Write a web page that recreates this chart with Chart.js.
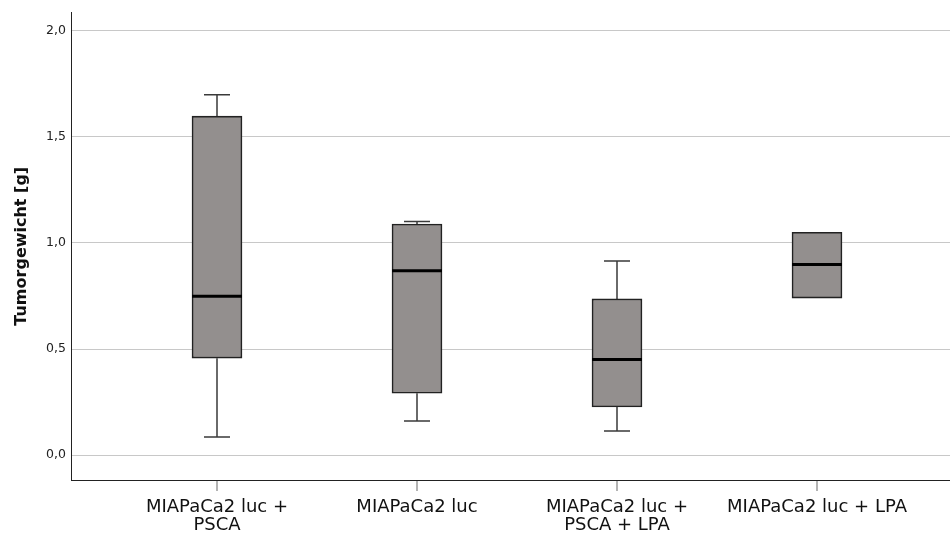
<!DOCTYPE html>
<html>
<head>
<meta charset="utf-8">
<script src="https://cdn.jsdelivr.net/npm/chart.js@4.4.1/dist/chart.umd.min.js"></script>
<style>
    html, body { margin: 0; padding: 0; background: #fff; }
    #wrap { width: 950px; height: 537px; }
</style>
</head>
<body>
<div id="wrap"><canvas id="graph"></canvas></div>
<script>
// groupes (axe x)
const categories = [
    ["MIAPaCa2 luc +", "PSCA"],
    "MIAPaCa2 luc",
    ["MIAPaCa2 luc +", "PSCA + LPA"],
    "MIAPaCa2 luc + LPA"
];
const positions = [0, 1, 2, 3];

// valeurs (Tumorgewicht en g)
const minimum = [0.085, 0.161, 0.114, 0.740];
const quartile1 = [0.457, 0.292, 0.227, 0.740];
const mediane = [0.748, 0.869, 0.451, 0.898];
const quartile3 = [1.597, 1.089, 0.736, 1.050];
const maximum = [1.698, 1.100, 0.914, 1.050];

const yTicks = [0, 0.5, 1.0, 1.5, 2.0];

// moustaches + mediane dessinees avec les echelles du graphique
const boxPlugin = {
    id: "boxWhiskers",
    beforeDatasetsDraw(chart) {
        const ctx = chart.ctx;
        const x = chart.scales.x;
        const y = chart.scales.y;
        ctx.save();
        ctx.strokeStyle = "#3a3a3a";
        ctx.lineWidth = 1.5;
        positions.forEach(function (p, i) {
            const px = x.getPixelForValue(p);
            const segs = [[quartile3[i], maximum[i]], [quartile1[i], minimum[i]]];
            segs.forEach(function (s) {
                if (s[0] === s[1]) return;
                const y0 = y.getPixelForValue(s[0]);
                const y1 = y.getPixelForValue(s[1]);
                ctx.beginPath();
                ctx.moveTo(px, y0);
                ctx.lineTo(px, y1);
                ctx.moveTo(px - 13, y1);
                ctx.lineTo(px + 13, y1);
                ctx.stroke();
            });
        });
        ctx.restore();
    },
    afterDatasetsDraw(chart) {
        const ctx = chart.ctx;
        const x = chart.scales.x;
        const y = chart.scales.y;
        ctx.save();
        ctx.strokeStyle = "#000";
        ctx.lineWidth = 3;
        positions.forEach(function (p, i) {
            const px = x.getPixelForValue(p);
            const py = y.getPixelForValue(mediane[i]);
            ctx.beginPath();
            ctx.moveTo(px - 25, py);
            ctx.lineTo(px + 25, py);
            ctx.stroke();
        });
        ctx.restore();
    }
};

function init() {
    const ctx = document.getElementById("graph").getContext("2d");
    const boites = positions.map(function (p, i) {
        return { x: p, y: [quartile1[i], quartile3[i]] };
    });

    new Chart(ctx, {
        type: "bar",
        data: {
            datasets: [{
                data: boites,
                backgroundColor: "#938f8e",
                borderColor: "#222",
                borderWidth: 1.6,
                borderSkipped: false,
                barThickness: 50
            }]
        },
        options: {
            responsive: true,
            maintainAspectRatio: false,
            animation: false,
            layout: { padding: { top: 11, left: 0, right: 0, bottom: 0 } },
            plugins: {
                legend: { display: false },
                tooltip: { enabled: false }
            },
            scales: {
                x: {
                    type: "linear",
                    offset: false,
                    min: -0.73,
                    max: 3.665,
                    afterBuildTicks: function (scale) {
                        scale.ticks = positions.map(function (v) { return { value: v }; });
                    },
                    afterFit: function (scale) { scale.height = 57; },
                    border: { color: "#222", width: 1 },
                    grid: {
                        offset: false,
                        drawOnChartArea: false,
                        drawTicks: true,
                        tickLength: 11,
                        color: "#b4b4b4",
                        lineWidth: 2
                    },
                    ticks: {
                        autoSkip: false,
                        maxRotation: 0,
                        padding: 7,
                        color: "#111",
                        font: { family: "DejaVu Sans", size: 18, lineHeight: 1.03 },
                        callback: function (value, index) {
                            return categories[index];
                        }
                    }
                },
                y: {
                    min: -0.117,
                    max: 2.085,
                    afterBuildTicks: function (scale) {
                        scale.ticks = yTicks.map(function (v) { return { value: v }; });
                    },
                    afterFit: function (scale) { scale.width = 71; },
                    border: { color: "#222", width: 1 },
                    grid: {
                        drawTicks: false,
                        color: "#c8c8c8",
                        lineWidth: 1
                    },
                    ticks: {
                        padding: 5,
                        color: "#222",
                        font: { family: "DejaVu Sans", size: 12.5 },
                        callback: function (value) {
                            return value.toFixed(1).replace(".", ",");
                        }
                    },
                    title: {
                        display: true,
                        text: "Tumorgewicht [g]",
                        color: "#111",
                        padding: { top: 12, bottom: 0 },
                        font: { family: "DejaVu Sans", size: 16, weight: "bold" }
                    }
                }
            }
        },
        plugins: [boxPlugin]
    });
}

addEventListener("DOMContentLoaded", init);
</script>
</body>
</html>
